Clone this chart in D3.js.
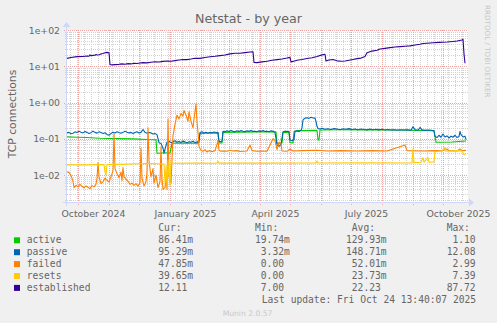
<!DOCTYPE html>
<html>
<head>
<meta charset="utf-8">
<script src="https://cdn.jsdelivr.net/npm/d3@7"></script>
<style>
  html, body { margin: 0; padding: 0; background: #f0f0f0; }
  svg { display: block; }
</style>
</head>
<body>
<svg id="chart" width="497" height="323"></svg>
<script>
// Netstat, yearly view: 400 days ending at the last update.
// Each series is a list of [day offset from window start, value].
const lastUpdate = new Date(2025, 9, 24, 13, 40, 7);
const spanDays = 400;

const seriesNames = ["active", "passive", "failed", "resets", "established"];
const seriesColors = ["#00cc00", "#0066b3", "#ff8000", "#ffcc00", "#330099"];

const active = [[0,0.113],[10,0.110],[20,0.108],[33,0.103],[50,0.101],[66,0.099],[80,0.095],[89,0.094],[90,0.040],[100,0.041],[103,0.040],[105,0.075],[118,0.076],[131,0.075],[133,0.140],[140,0.142],[151,0.145],[152,0.077],[155,0.076],[156,0.150],[170,0.152],[190,0.155],[209,0.155],[210,0.075],[215,0.076],[216,0.150],[222,0.150],[223,0.078],[226,0.077],[227,0.155],[230,0.168],[250,0.170],[251,0.093],[252,0.092],[253,0.175],[270,0.177],[300,0.176],[330,0.174],[350,0.170],[367,0.168],[369,0.080],[385,0.081],[399,0.0864]];

const passive = [[0,0.145],[2,0.150],[4,0.138],[6,0.142],[8,0.155],[10,0.148],[12,0.160],[14,0.152],[16,0.145],[18,0.158],[20,0.150],[22,0.140],[24,0.147],[26,0.162],[28,0.150],[30,0.143],[32,0.155],[34,0.148],[36,0.140],[38,0.146],[40,0.132],[42,0.125],[44,0.140],[46,0.152],[48,0.145],[50,0.155],[52,0.148],[54,0.142],[56,0.150],[58,0.160],[60,0.152],[62,0.145],[64,0.150],[66,0.140],[68,0.148],[70,0.155],[72,0.145],[74,0.150],[76,0.180],[78,0.150],[80,0.142],[82,0.148],[84,0.145],[86,0.135],[88,0.140],[90,0.130],[92,0.078],[94,0.074],[96,0.055],[97,0.040],[98,0.052],[100,0.080],[102,0.085],[104,0.078],[106,0.083],[108,0.088],[110,0.080],[112,0.084],[114,0.079],[116,0.086],[118,0.082],[120,0.077],[122,0.083],[124,0.080],[126,0.085],[128,0.078],[130,0.082],[132,0.080],[133,0.148],[135,0.155],[137,0.145],[139,0.152],[141,0.142],[143,0.150],[145,0.146],[147,0.153],[149,0.148],[151,0.150],[152,0.085],[154,0.082],[155,0.086],[156,0.160],[158,0.155],[160,0.165],[162,0.158],[164,0.170],[166,0.160],[168,0.155],[170,0.165],[172,0.158],[174,0.168],[176,0.160],[178,0.155],[180,0.165],[182,0.160],[184,0.170],[186,0.158],[188,0.162],[190,0.155],[192,0.165],[194,0.160],[196,0.168],[198,0.158],[200,0.162],[202,0.155],[204,0.165],[206,0.160],[208,0.150],[210,0.068],[212,0.062],[214,0.070],[216,0.155],[218,0.162],[220,0.158],[222,0.160],[223,0.092],[225,0.088],[227,0.095],[228,0.160],[230,0.165],[232,0.158],[234,0.170],[235,0.200],[236,0.330],[238,0.370],[240,0.380],[242,0.365],[244,0.390],[246,0.375],[248,0.370],[249,0.300],[250,0.220],[251,0.190],[253,0.185],[255,0.195],[258,0.182],[261,0.188],[264,0.180],[267,0.192],[270,0.185],[273,0.178],[276,0.188],[279,0.182],[282,0.190],[285,0.180],[288,0.185],[291,0.178],[294,0.186],[297,0.180],[300,0.176],[303,0.185],[306,0.178],[309,0.183],[312,0.176],[315,0.182],[318,0.175],[321,0.180],[324,0.174],[327,0.178],[330,0.172],[333,0.178],[336,0.174],[340,0.176],[344,0.172],[346,0.215],[348,0.178],[351,0.172],[353,0.205],[355,0.176],[358,0.170],[361,0.175],[364,0.172],[367,0.165],[368,0.115],[370,0.108],[372,0.125],[374,0.110],[376,0.135],[378,0.112],[380,0.120],[382,0.105],[384,0.118],[386,0.110],[388,0.125],[390,0.108],[392,0.115],[393,0.160],[394,0.130],[396,0.112],[398,0.118],[399,0.0953]];

const failed = [[0,0.0123],[2,0.0118],[4,0.0098],[6,0.0068],[7,0.0045],[9,0.0052],[11,0.0047],[13,0.0055],[15,0.0049],[17,0.0044],[19,0.0050],[21,0.0046],[23,0.0042],[25,0.0051],[27,0.0047],[29,0.0056],[30,0.0080],[31,0.0220],[32,0.0090],[34,0.0058],[36,0.0065],[38,0.0082],[40,0.0071],[42,0.0064],[44,0.0090],[46,0.0130],[47,0.140],[48,0.0150],[50,0.0110],[52,0.0085],[54,0.0120],[55,0.0070],[56,0.0160],[57,0.0090],[59,0.0075],[61,0.0068],[63,0.0055],[65,0.0060],[67,0.0052],[69,0.0058],[71,0.0049],[73,0.0062],[74,0.055],[75,0.0080],[77,0.0050],[79,0.0065],[80,0.0120],[81,0.200],[82,0.025],[84,0.0090],[86,0.0150],[87,0.0060],[89,0.0100],[91,0.0045],[93,0.0065],[94,0.060],[95,0.0080],[96,0.0040],[98,0.0045],[99,0.0080],[100,0.0040],[101,0.350],[102,0.0090],[104,0.0060],[106,0.120],[108,0.250],[110,0.450],[112,0.350],[114,0.500],[116,0.420],[117,0.600],[119,0.450],[121,0.300],[122,0.550],[124,0.300],[126,0.200],[127,0.350],[129,0.900],[130,0.300],[131,0.150],[132,0.060],[134,0.048],[136,0.045],[138,0.050],[140,0.043],[142,0.047],[145,0.044],[148,0.047],[150,0.070],[151,0.090],[152,0.048],[154,0.045],[157,0.046],[160,0.045],[163,0.048],[166,0.046],[170,0.047],[173,0.0445],[180,0.046],[183,0.067],[185,0.047],[190,0.045],[195,0.046],[200,0.045],[206,0.100],[208,0.090],[210,0.050],[212,0.080],[214,0.075],[215,0.046],[220,0.045],[223,0.052],[226,0.046],[235,0.047],[250,0.048],[260,0.046],[275,0.047],[290,0.046],[305,0.047],[320,0.046],[338,0.067],[340,0.047],[355,0.046],[370,0.047],[375,0.046],[380,0.052],[382,0.047],[390,0.046],[393,0.052],[395,0.047],[399,0.0478]];

const resets = [[0,0.0190],[10,0.0192],[20,0.0190],[30,0.0193],[37,0.0195],[38,0.0120],[39,0.0100],[40,0.0195],[50,0.0197],[60,0.0200],[70,0.0205],[80,0.0207],[90,0.0205],[97,0.0200],[98,0.0060],[99,0.0180],[100,0.0045],[101,0.0250],[102,0.0100],[103,0.0050],[104,0.0260],[105,0.0210],[130,0.0212],[150,0.0210],[151,0.0240],[152,0.0212],[200,0.0213],[249,0.0214],[250,0.0245],[251,0.0215],[300,0.0216],[345,0.0215],[346,0.0530],[347,0.0220],[354,0.0225],[356,0.0300],[357,0.0225],[361,0.0300],[362,0.0225],[367,0.0230],[368,0.0440],[375,0.0460],[378,0.0580],[379,0.0450],[390,0.0470],[395,0.0460],[397,0.0360],[399,0.0397]];

const established = [[0,16.5],[4,17.4],[10,18.4],[16,18.6],[20,19.2],[22,18.9],[23,20.6],[24,19.5],[26,19.9],[28,20.1],[29,21.0],[30,20.4],[32,20.8],[34,21.9],[36,22.4],[38,23.6],[40,24.2],[42,23.6],[43,11.2],[45,10.9],[48,11.1],[52,11.3],[55,11.6],[58,11.4],[61,11.8],[64,11.6],[67,12.1],[70,11.9],[73,12.3],[76,12.6],[80,12.4],[84,12.9],[88,13.3],[92,13.1],[96,13.6],[100,13.9],[104,13.7],[108,14.3],[112,14.8],[116,15.4],[120,15.2],[124,15.8],[128,16.6],[133,16.5],[138,17.4],[143,18.3],[148,18.8],[153,19.6],[158,20.4],[163,21.9],[168,22.8],[173,22.9],[178,23.8],[183,24.8],[186,25.2],[187,12.7],[190,12.6],[195,13.2],[200,13.8],[205,14.6],[210,15.2],[215,15.8],[220,16.8],[223,17.6],[224,13.2],[226,13.6],[230,14.6],[235,15.3],[240,16.3],[245,17.2],[250,18.6],[255,20.6],[258,21.4],[259,13.9],[262,14.8],[266,15.3],[270,14.1],[274,13.8],[278,13.9],[282,14.6],[286,15.4],[290,16.2],[294,16.8],[298,18.5],[300,23.5],[305,26.2],[310,27.6],[313,29.9],[318,31.2],[323,32.6],[328,34.1],[333,34.8],[338,35.6],[343,36.5],[348,38.6],[353,40.4],[356,42.3],[360,43.1],[366,44.4],[372,45.6],[380,46.5],[386,48.3],[390,49.8],[395,53.1],[396,55.3],[397,22.0],[398,12.1]];

// Legend statistics, one row per series (fixed-width columns)
const curValues = ["86.41m", "95.29m", "47.85m", "39.65m", "12.11"];
const minValues = ["19.74m", " 3.32m", " 0.00", " 0.00", " 7.00"];
const avgValues = ["129.93m", "148.71m", " 52.01m", " 23.73m", " 22.23"];
const maxValues = [" 1.10", "12.08", " 2.99", " 7.39", "87.72"];

const yTickLabels = ["1e-02", "1e-01", "1e+00", "1e+01", "1e+02"];
const xLabelMonths = [new Date(2024, 9, 1), new Date(2025, 0, 1), new Date(2025, 3, 1), new Date(2025, 6, 1), new Date(2025, 9, 1)];

const allSeries = [active, passive, failed, resets, established];

// ---- layout ----
const plot = { left: 67, right: 468, top: 30, bottom: 202 };
const fontColor = "#666666";
const axisColor = "#cfd6f8";

const end = lastUpdate;
const start = d3.timeDay.offset(end, -spanDays);
const dayToDate = d => new Date(start.getTime() + d * 86400000);

const x = d3.scaleTime().domain([start, end]).range([plot.left, plot.left + spanDays]);
const y = d3.scaleLog().domain([0.0018, 100]).range([plot.bottom, plot.top]);

const svg = d3.select("#chart");

svg.append("rect").attr("x", 0).attr("y", 0).attr("width", 497).attr("height", 323).attr("fill", "#f0f0f0");
svg.append("rect")
  .attr("x", plot.left).attr("y", plot.top)
  .attr("width", plot.right - plot.left).attr("height", plot.bottom - plot.top)
  .attr("fill", "#ffffff");

// ---- grid ----
const grid = svg.append("g").attr("shape-rendering", "crispEdges");
const minorColor = "#d2d2d2";
const majorColor = "#eea3a3";

// horizontal minor lines (2..9 per decade)
const yMinor = [];
for (let k = -3; k <= 1; k++) for (let m = 2; m <= 9; m++) {
  const v = m * Math.pow(10, k);
  if (v > y.domain()[0] && v < y.domain()[1]) yMinor.push(v);
}
grid.selectAll(".hmin").data(yMinor).join("line")
  .attr("x1", plot.left - 2).attr("x2", plot.right)
  .attr("y1", d => Math.round(y(d)) + 0.5).attr("y2", d => Math.round(y(d)) + 0.5)
  .attr("stroke", minorColor).attr("stroke-dasharray", "1,1");

// vertical minor lines, weekly
const weeks = d3.timeMonday.range(start, end);
grid.selectAll(".vmin").data(weeks).join("line")
  .attr("x1", d => Math.round(x(d)) + 0.5).attr("x2", d => Math.round(x(d)) + 0.5)
  .attr("y1", plot.top).attr("y2", plot.bottom + 2)
  .attr("stroke", minorColor).attr("stroke-dasharray", "1,1");

// vertical major lines, monthly
const months = d3.timeMonth.range(start, end);
grid.selectAll(".vmaj").data(months).join("line")
  .attr("x1", d => Math.round(x(d)) + 0.5).attr("x2", d => Math.round(x(d)) + 0.5)
  .attr("y1", plot.top).attr("y2", plot.bottom + 3)
  .attr("stroke", majorColor).attr("stroke-dasharray", "1,1");

// horizontal major lines (decades)
const yMajor = yTickLabels.map(t => +t);
grid.selectAll(".hmaj").data(yMajor).join("line")
  .attr("x1", plot.left - 3).attr("x2", plot.right)
  .attr("y1", d => Math.round(y(d)) + 0.5).attr("y2", d => Math.round(y(d)) + 0.5)
  .attr("stroke", majorColor).attr("stroke-dasharray", "1,1");

// ---- data lines ----
const line = d3.line()
  .x(d => x(dayToDate(d[0])))
  .y(d => y(d[1]));

const lines = svg.append("g");
allSeries.forEach((s, i) => {
  lines.append("path")
    .attr("d", line(s))
    .attr("fill", "none")
    .attr("stroke", seriesColors[i])
    .attr("stroke-width", 1.1)
    .attr("stroke-linejoin", "round");
});

// ---- axes with arrows ----
const axes = svg.append("g");
axes.append("line").attr("x1", plot.left - 4).attr("x2", plot.right + 2)
  .attr("y1", plot.bottom + 0.5).attr("y2", plot.bottom + 0.5)
  .attr("stroke", axisColor);
axes.append("path")
  .attr("d", `M${plot.right + 1},${plot.bottom - 3.5} L${plot.right + 6},${plot.bottom + 0.5} L${plot.right + 1},${plot.bottom + 4.5} Z`)
  .attr("fill", axisColor);
axes.append("line").attr("x1", plot.left - 0.5).attr("x2", plot.left - 0.5)
  .attr("y1", plot.bottom + 4).attr("y2", plot.top - 4)
  .attr("stroke", axisColor);
axes.append("path")
  .attr("d", `M${plot.left - 4.5},${plot.top - 3} L${plot.left - 0.5},${plot.top - 8} L${plot.left + 3.5},${plot.top - 3} Z`)
  .attr("fill", axisColor);

// ---- tick labels ----
const sans = "'DejaVu Sans', Verdana, sans-serif";
const mono = "'DejaVu Sans Mono', monospace";

svg.append("g").selectAll("text").data(yTickLabels).join("text")
  .attr("x", 60).attr("y", d => y(+d) + 3.5)
  .attr("text-anchor", "end")
  .attr("font-family", sans).attr("font-size", 9.3)
  .attr("fill", fontColor)
  .text(d => d);

const labelFmt = d3.timeFormat("%B %Y");
svg.append("g").selectAll("text").data(xLabelMonths).join("text")
  .attr("x", d => x(d3.timeDay.offset(d, 15)))
  .attr("y", 216.5)
  .attr("text-anchor", "middle")
  .attr("font-family", sans).attr("font-size", 9.3)
  .attr("fill", fontColor)
  .text(d => labelFmt(d));

// ---- titles ----
svg.append("text")
  .attr("x", 248.5).attr("y", 23)
  .attr("text-anchor", "middle")
  .attr("font-family", sans).attr("font-size", 12.7)
  .attr("fill", fontColor)
  .text("Netstat - by year");

svg.append("text")
  .attr("transform", "translate(15.5,114) rotate(-90)")
  .attr("text-anchor", "middle")
  .attr("font-family", sans).attr("font-size", 10.8)
  .attr("fill", fontColor)
  .text("TCP connections");

svg.append("text")
  .attr("transform", "translate(484.5,5) rotate(90)")
  .attr("text-anchor", "start")
  .attr("font-family", sans).attr("font-size", 7.2)
  .attr("fill", "#c8c8c8")
  .text("RRDTOOL / TOBI OETIKER");

svg.append("text")
  .attr("x", 247.5).attr("y", 316)
  .attr("text-anchor", "middle")
  .attr("font-family", sans).attr("font-size", 7.6)
  .attr("fill", "#c8c8c8")
  .text("Munin 2.0.57");

// ---- legend ----
const legend = svg.append("g")
  .attr("font-family", mono).attr("font-size", 9.65)
  .attr("fill", fontColor);

// keep the padding spaces of the fixed-width columns
const keepSpaces = s => s.replace(/ /g, "\u00a0");

const colX = { name: 26.7, cur: 158.3, min: 255, avg: 346, max: 446.7 };
const headerY = 231;
const rowY = i => 243.3 + i * 11.9;

legend.append("text").attr("x", colX.cur).attr("y", headerY).text("Cur:");
legend.append("text").attr("x", colX.min).attr("y", headerY).text("Min:");
legend.append("text").attr("x", colX.avg).attr("y", headerY).text(keepSpaces(" Avg:"));
legend.append("text").attr("x", colX.max).attr("y", headerY).text("Max:");

seriesNames.forEach((name, i) => {
  legend.append("rect")
    .attr("x", 14).attr("y", rowY(i) - 6).attr("width", 6).attr("height", 6)
    .attr("fill", seriesColors[i]);
  legend.append("text").attr("x", colX.name).attr("y", rowY(i)).text(name);
  legend.append("text").attr("x", colX.cur).attr("y", rowY(i)).text(keepSpaces(curValues[i]));
  legend.append("text").attr("x", colX.min).attr("y", rowY(i)).text(keepSpaces(minValues[i]));
  legend.append("text").attr("x", colX.avg).attr("y", rowY(i)).text(keepSpaces(avgValues[i]));
  legend.append("text").attr("x", colX.max).attr("y", rowY(i)).text(keepSpaces(maxValues[i]));
});

legend.append("text")
  .attr("x", 261.7).attr("y", 303)
  .text("Last update: Fri Oct 24 13:40:07 2025");
</script>
</body>
</html>
